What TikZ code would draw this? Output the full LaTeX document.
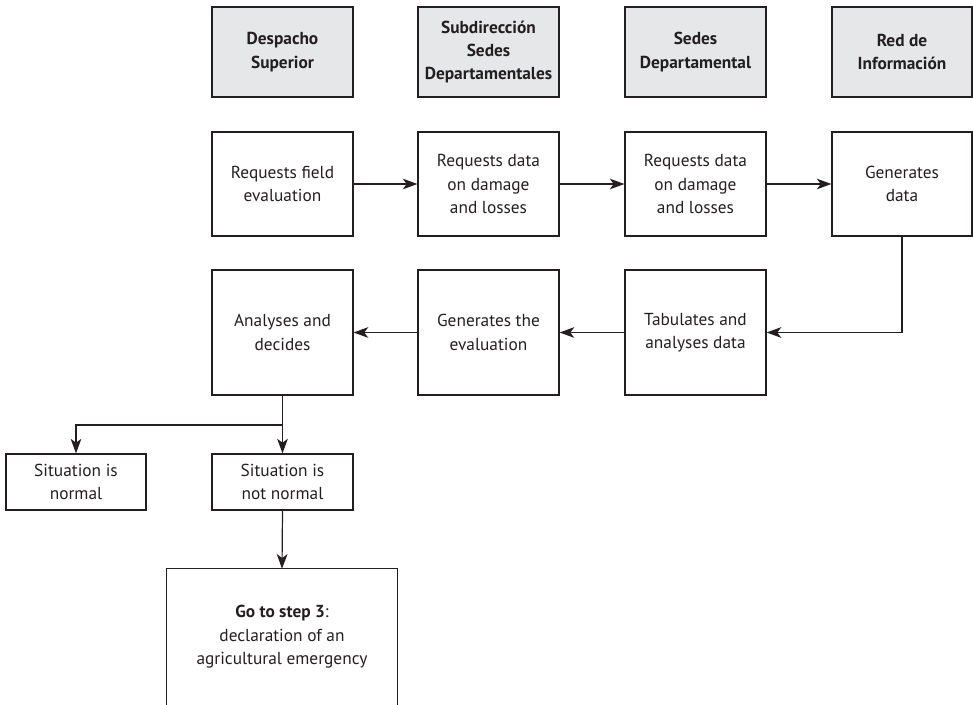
\documentclass[tikz,border=0pt]{standalone}
\usepackage{fontspec}
\setmainfont{PT Sans}
\usetikzlibrary{arrows.meta}
\definecolor{ink}{HTML}{231F20}
\definecolor{hdrfill}{HTML}{E6E7E8}
\begin{document}
\begin{tikzpicture}[x=0.75pt,y=-0.75pt,
  every node/.style={font=\fontsize{13pt}{17.6pt}\selectfont, text=ink, align=center, inner sep=0pt},
  box/.style={draw=ink, line width=0.9pt, minimum width=141*0.75pt},
  hdr/.style={box, fill=hdrfill, minimum height=90*0.75pt, font=\fontsize{13pt}{17.6pt}\selectfont\bfseries},
  rowone/.style={box, minimum height=104*0.75pt},
  rowtwo/.style={box, minimum height=125*0.75pt},
  small/.style={box, minimum width=140*0.75pt, minimum height=56*0.75pt},
  arr/.style={draw=ink, line width=0.9pt, -{Stealth[length=11pt,width=8pt,inset=3pt]}},
  ln/.style={draw=ink, line width=0.9pt}]
\useasboundingbox (0,0) rectangle (973,705);
% headers
\node[hdr] (h1) at (282.5,52) {Despacho\\Superior};
\node[hdr] (h2) at (488.5,52) {Subdirección\\Sedes\\Departamentales};
\node[hdr] (h3) at (695.5,52) {Sedes\\Departamental};
\node[hdr, minimum width=140*0.75pt] (h4) at (902,52) {Red de\\Información};
% row 1
\node[rowone] (a1) at (282.5,184) {Requests field\\evaluation};
\node[rowone] (a2) at (488.5,184) {Requests data\\on damage\\and losses};
\node[rowone] (a3) at (695.5,184) {Requests data\\on damage\\and losses};
\node[rowone, minimum width=140*0.75pt] (a4) at (902,184) {Generates\\data};
% row 2
\node[rowtwo] (b1) at (282.5,332.5) {Analyses and\\decides};
\node[rowtwo] (b2) at (488.5,332.5) {Generates the\\evaluation};
\node[rowtwo] (b3) at (695.5,332.5) {Tabulates and\\analyses data};
% outcomes
\node[small] (n1) at (76,482) {Situation is\\normal};
\node[small, minimum width=141*0.75pt] (n2) at (282.5,482) {Situation is\\not normal};
\node[minimum width=230*0.75pt, minimum height=136*0.75pt] (go) at (282,637)
  {\textbf{Go to step 3}:\\declaration of an\\agricultural emergency};
\draw[ln] (go.south west) -- (go.north west) -- (go.north east) -- (go.south east);
% connectors
\draw[arr] (a1) -- (a2);
\draw[arr] (a2) -- (a3);
\draw[arr] (a3) -- (a4);
\draw[arr] (a4.south) |- (b3.east);
\draw[arr] (b3) -- (b2);
\draw[arr] (b2) -- (b1);
\coordinate (br) at (282.5,425);
\draw[ln] (b1.south) -- (br);
\draw[arr] (br) -| (n1.north);
\draw[arr] (br) -- (n2.north);
\draw[arr] (n2.south) -- (go.north);
\end{tikzpicture}
\end{document}
